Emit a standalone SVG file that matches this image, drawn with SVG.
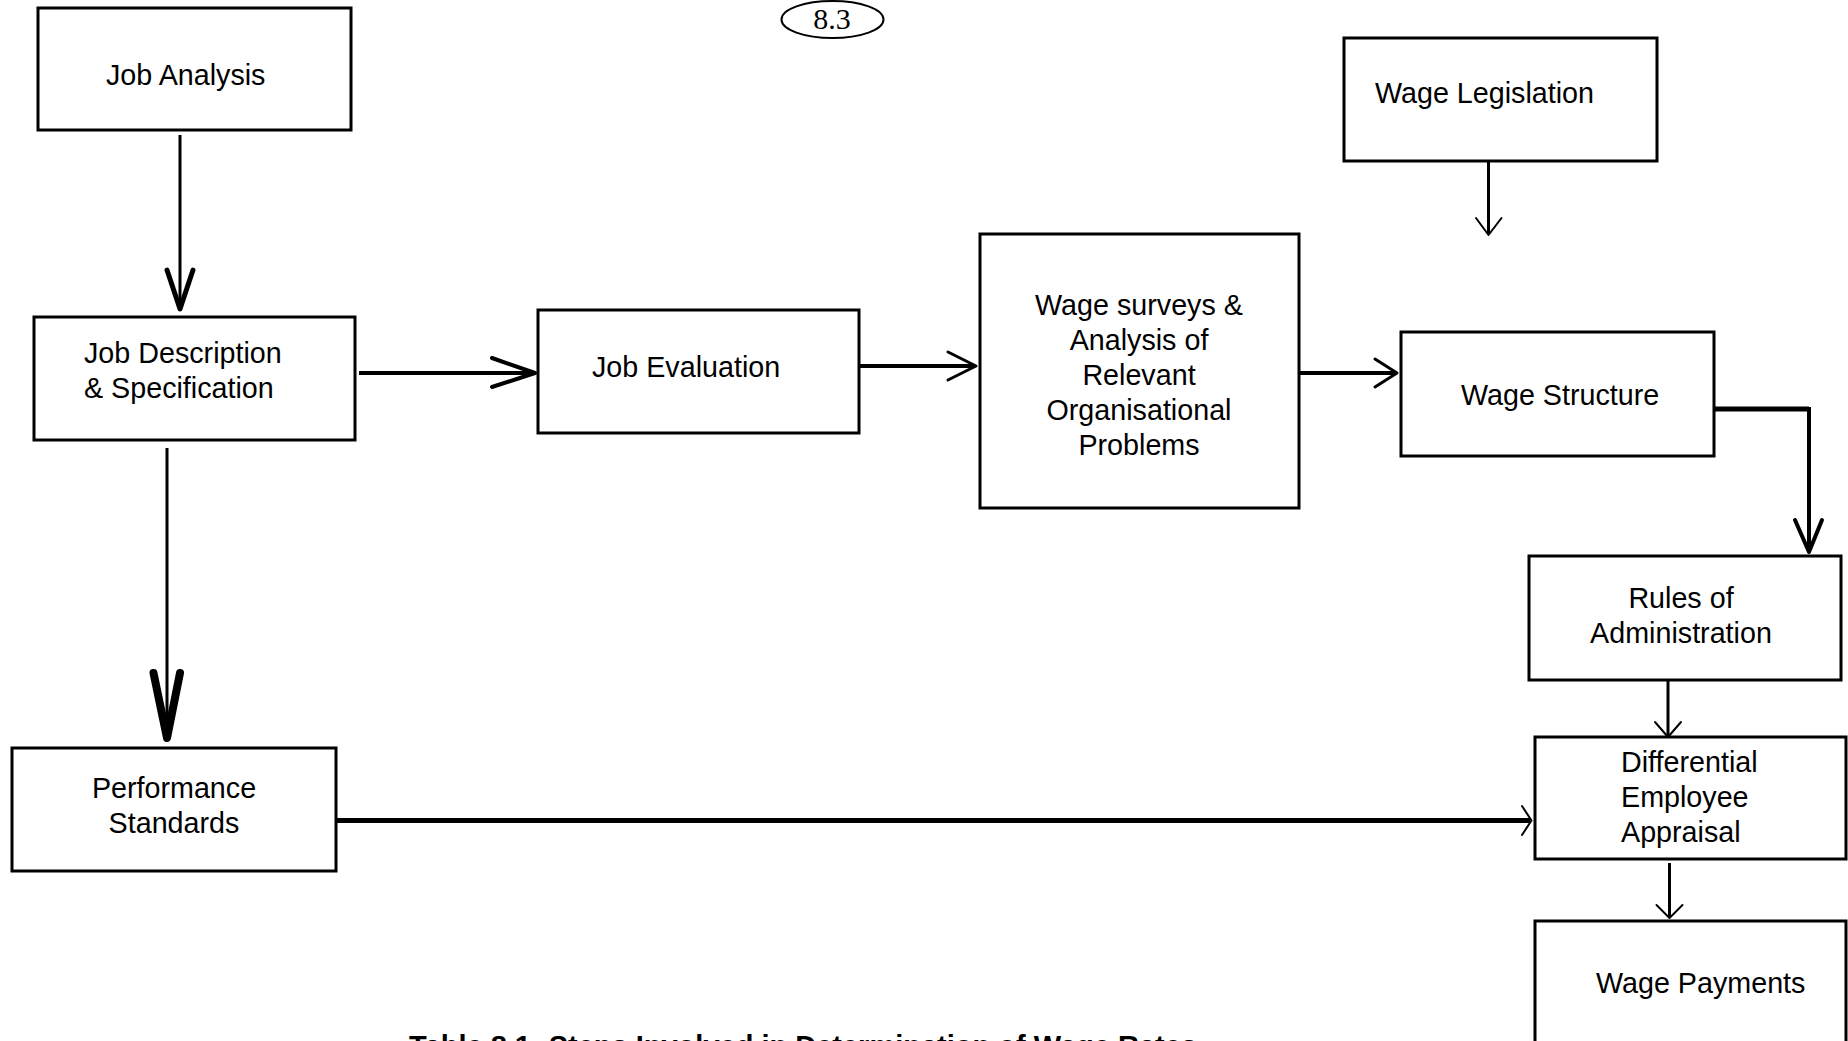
<svg xmlns="http://www.w3.org/2000/svg" width="1848" height="1041" viewBox="0 0 1848 1041">
<style>
.box{fill:#fff;stroke:#000;stroke-width:3}
.t{font-family:"Liberation Sans",Arial,sans-serif;font-size:28.7px;fill:#000}
.c{text-anchor:middle}
.ln{stroke:#000;fill:none;stroke-linecap:butt}
.ah{stroke:#000;fill:none;stroke-linecap:round;stroke-linejoin:round}
</style>
<rect width="1848" height="1041" fill="#fff"/>
<g id="page-number">
<ellipse cx="832.5" cy="19.5" rx="51" ry="18.5" fill="none" stroke="#000" stroke-width="2"/>
<text x="832" y="29" text-anchor="middle" font-family="Liberation Serif,serif" font-size="30">8.3</text>
</g>
<g id="connectors">
<line class="ln" x1="180" y1="135" x2="180" y2="309" stroke-width="3"/>
<polyline class="ah" points="167,270 180,309 193,270" stroke-width="5"/>
<line class="ln" x1="167" y1="448" x2="167" y2="736" stroke-width="3"/>
<polyline class="ah" points="153.5,673 167,738 180,673" stroke-width="8"/>
<line class="ln" x1="359" y1="373" x2="533" y2="373" stroke-width="4"/>
<polyline class="ah" points="492,358 535,373 492,387" stroke-width="4"/>
<line class="ln" x1="856" y1="366" x2="974" y2="366" stroke-width="4"/>
<polyline class="ah" points="948,352 976,366 948,380" stroke-width="3"/>
<line class="ln" x1="1299" y1="373" x2="1395" y2="373" stroke-width="4"/>
<polyline class="ah" points="1375,359 1397,373 1375,387" stroke-width="3"/>
<line class="ln" x1="1488.5" y1="161" x2="1488.5" y2="234" stroke-width="3"/>
<polyline class="ah" points="1476,218 1488.5,235 1501.5,218" stroke-width="2"/>
<polyline class="ln" points="1711,409 1809,409" stroke-width="5"/>
<line class="ln" x1="1809" y1="407" x2="1809" y2="550" stroke-width="4"/>
<polyline class="ah" points="1795,520 1809,552 1822,520" stroke-width="4"/>
<line class="ln" x1="1668" y1="680" x2="1668" y2="735" stroke-width="3"/>
<polyline class="ah" points="1655,722 1668,737 1681,722" stroke-width="2"/>
<line class="ln" x1="1669.5" y1="863" x2="1669.5" y2="917" stroke-width="3"/>
<polyline class="ah" points="1656.5,905 1669.5,918 1682.5,905" stroke-width="2"/>
<line class="ln" x1="336" y1="820.5" x2="1530" y2="820.5" stroke-width="5"/>
<polyline class="ah" points="1522,806 1531.5,820.5 1522,835" stroke-width="2"/>
</g>
<g id="job-analysis">
<rect class="box" x="38" y="8" width="313" height="122"/>
<text class="t" x="106" y="85">Job Analysis</text>
</g>
<g id="job-description">
<rect class="box" x="34" y="317" width="321" height="123"/>
<text class="t" x="84" y="363">Job Description</text>
<text class="t" x="84" y="398">&amp; Specification</text>
</g>
<g id="job-evaluation">
<rect class="box" x="538" y="310" width="321" height="123"/>
<text class="t" x="592" y="377">Job Evaluation</text>
</g>
<g id="wage-surveys">
<rect class="box" x="980" y="234" width="319" height="274"/>
<text class="t c" x="1139" y="315">Wage surveys &amp;</text>
<text class="t c" x="1139" y="350">Analysis of</text>
<text class="t c" x="1139" y="385">Relevant</text>
<text class="t c" x="1139" y="420">Organisational</text>
<text class="t c" x="1139" y="455">Problems</text>
</g>
<g id="wage-legislation">
<rect class="box" x="1344" y="38" width="313" height="123"/>
<text class="t" x="1375" y="103">Wage Legislation</text>
</g>
<g id="wage-structure">
<rect class="box" x="1401" y="332" width="313" height="124"/>
<text class="t" x="1461" y="405">Wage Structure</text>
</g>
<g id="rules-of-administration">
<rect class="box" x="1529" y="556" width="312" height="124"/>
<text class="t c" x="1681" y="608">Rules of</text>
<text class="t c" x="1681" y="643">Administration</text>
</g>
<g id="differential-employee-appraisal">
<rect class="box" x="1535" y="737" width="311" height="122"/>
<text class="t" x="1621" y="772">Differential</text>
<text class="t" x="1621" y="807">Employee</text>
<text class="t" x="1621" y="842">Appraisal</text>
</g>
<g id="wage-payments">
<rect class="box" x="1535" y="921" width="311" height="160"/>
<text class="t" x="1596" y="993">Wage Payments</text>
</g>
<g id="performance-standards">
<rect class="box" x="12" y="748" width="324" height="123"/>
<text class="t c" x="174" y="798">Performance</text>
<text class="t c" x="174" y="833">Standards</text>
</g>
<g id="caption">
<text x="409" y="1056" font-family="Liberation Sans,Arial,sans-serif" font-size="29" font-weight="bold">Table 8.1: Steps Involved in Determination of Wage Rates</text>
</g>
</svg>
